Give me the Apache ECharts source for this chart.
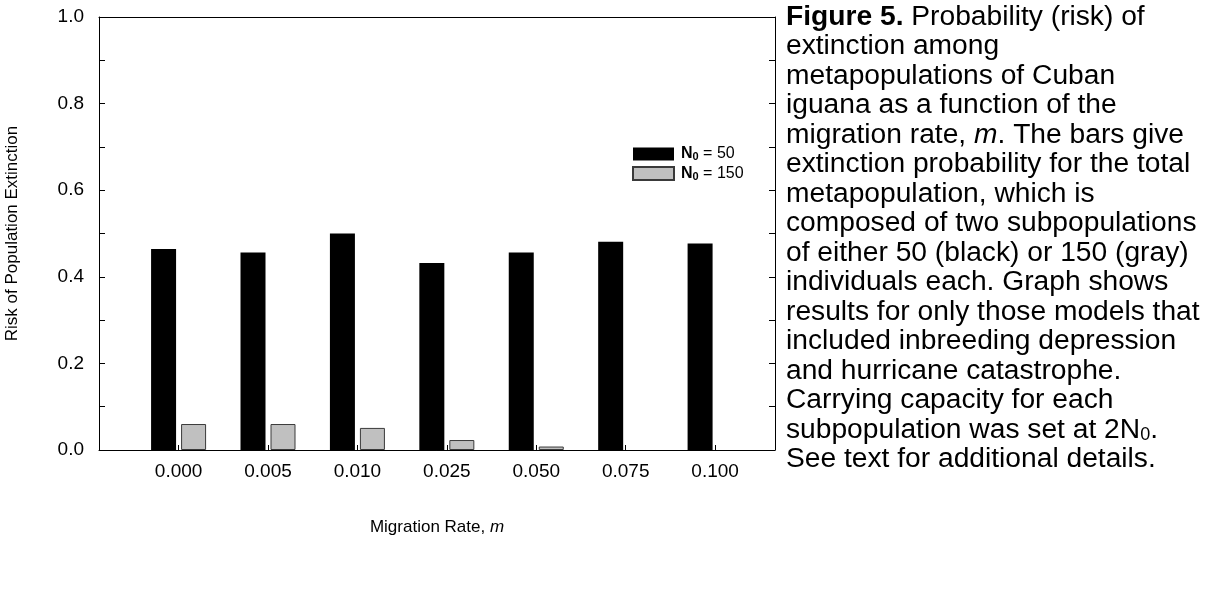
<!DOCTYPE html>
<html>
<head>
<meta charset="utf-8">
<script src="https://cdn.jsdelivr.net/npm/echarts@6/dist/echarts.min.js"></script>
<style>
html,body{margin:0;padding:0;background:#fff;}
#chart{width:1209px;height:589px;}
</style>
</head>
<body>
<div id="chart"></div>
<script>
// ---- data ----
const categories = ['0.000', '0.005', '0.010', '0.025', '0.050', '0.075', '0.100'];
const n50Values  = [0.464, 0.456, 0.500, 0.432, 0.456, 0.481, 0.477];
const n150Values = [0.060, 0.060, 0.051, 0.023, 0.008, 0.000, 0.000];
const yTicks = [0.0, 0.2, 0.4, 0.6, 0.8, 1.0];
const seriesNames = ['N0 = 50', 'N0 = 150'];
const captionLines = [
  '{b|Figure 5.} Probability (risk) of',
  'extinction among',
  'metapopulations of Cuban',
  'iguana as a function of the',
  'migration rate, {i|m}. The bars give',
  'extinction probability for the total',
  'metapopulation, which is',
  'composed of two subpopulations',
  'of either 50 (black) or 150 (gray)',
  'individuals each. Graph shows',
  'results for only those models that',
  'included inbreeding depression',
  'and hurricane catastrophe.',
  'Carrying capacity for each',
  'subpopulation was set at 2N{sub|0}.',
  'See text for additional details.'
];

const FONT = '"Liberation Sans", Arial, sans-serif';
const chart = echarts.init(document.getElementById('chart'), null, {renderer: 'canvas'});
const idx = categories.map((c, i) => i);

const axisLineStyle = {show: true, onZero: false, lineStyle: {color: '#000', width: 1}};

function barData(values, zeroNoBorder) {
  return values.map((v, i) => {
    const item = {value: [idx[i], v]};
    if (zeroNoBorder && v === 0) item.itemStyle = {borderWidth: 0};
    return item;
  });
}

chart.setOption({
  backgroundColor: '#fff',
  animation: false,
  grid: {left: 99, right: 434, top: 17, bottom: 139, containLabel: false, outerBoundsMode: 'none'},
  legend: {
    orient: 'vertical',
    left: 632, top: 146, padding: 0,
    itemWidth: 41, itemHeight: 13, itemGap: 3,
    icon: 'rect',
    data: seriesNames,
    formatter: function (name) {
      const num = name.split('= ')[1];
      return '{n|N}{s|0}{t| = ' + num + '}';
    },
    textStyle: {
      fontFamily: FONT, color: '#000', padding: [0, 0, 0, 2],
      rich: {
        n: {fontFamily: FONT, fontSize: 16, fontWeight: 'bold', color: '#000', lineHeight: 17},
        s: {fontFamily: FONT, fontSize: 11, fontWeight: 'bold', color: '#000', verticalAlign: 'bottom', lineHeight: 12},
        t: {fontFamily: FONT, fontSize: 16, color: '#000', lineHeight: 17}
      }
    }
  },
  xAxis: [{
    type: 'value',
    min: -0.89, max: 6.67,
    axisLine: axisLineStyle,
    splitLine: {show: false},
    axisTick: {show: true, inside: true, length: 5, customValues: idx, lineStyle: {color: '#000'}},
    axisLabel: {
      show: true, customValues: idx, margin: 12,
      fontFamily: FONT, fontSize: 19, color: '#000',
      formatter: function (v) { return categories[Math.round(v)]; }
    },
    name: '{a|Migration Rate, }{m|m}',
    nameLocation: 'middle', nameGap: 69,
    nameTextStyle: {
      fontFamily: FONT, fontSize: 17, color: '#000',
      rich: {
        a: {fontFamily: FONT, fontSize: 17, color: '#000'},
        m: {fontFamily: FONT, fontSize: 17, fontStyle: 'italic', color: '#000'}
      }
    }
  }, {
    type: 'value', position: 'top',
    min: -0.89, max: 6.67,
    axisLine: axisLineStyle,
    axisTick: {show: false}, axisLabel: {show: false}, splitLine: {show: false}
  }],
  yAxis: [{
    type: 'value', min: 0, max: 1, interval: 0.2,
    axisLine: axisLineStyle,
    splitLine: {show: false},
    axisTick: {show: true, inside: true, length: 6, lineStyle: {color: '#000'}},
    minorTick: {show: true, splitNumber: 2, length: 6, lineStyle: {color: '#000'}},
    axisLabel: {
      margin: 15, fontFamily: FONT, fontSize: 19, color: '#000',
      formatter: function (v) { return v.toFixed(1); }
    },
    name: 'Risk of Population Extinction',
    nameLocation: 'middle', nameGap: 78, nameRotate: 90,
    nameTextStyle: {fontFamily: FONT, fontSize: 17, color: '#000'}
  }, {
    type: 'value', min: 0, max: 1, interval: 0.2, position: 'right',
    axisLine: axisLineStyle,
    splitLine: {show: false},
    axisTick: {show: true, inside: true, length: 6, lineStyle: {color: '#000'}},
    minorTick: {show: true, splitNumber: 2, length: 6, lineStyle: {color: '#000'}},
    axisLabel: {show: false}
  }],
  series: [{
    name: seriesNames[0], type: 'bar', xAxisIndex: 0, yAxisIndex: 0,
    barWidth: 25, barGap: '20%',
    itemStyle: {color: '#000', borderColor: '#000', borderWidth: 0},
    data: barData(n50Values, false)
  }, {
    name: seriesNames[1], type: 'bar', xAxisIndex: 0, yAxisIndex: 0,
    barWidth: 25, barGap: '20%',
    itemStyle: {color: '#c0c0c0', borderColor: '#3a3a3a', borderWidth: 1},
    data: barData(n150Values, true)
  }],
  graphic: [{
    type: 'text', left: 786, top: 2,
    style: {
      text: captionLines.join('\n'),
      fontFamily: FONT, fontSize: 28.2, lineHeight: 29.5, fill: '#000',
      rich: {
        b: {fontFamily: FONT, fontSize: 28.2, fontWeight: 'bold', lineHeight: 29.5, fill: '#000'},
        i: {fontFamily: FONT, fontSize: 28.2, fontStyle: 'italic', lineHeight: 29.5, fill: '#000'},
        sub: {fontFamily: FONT, fontSize: 18, lineHeight: 18, verticalAlign: 'bottom', fill: '#000'}
      }
    }
  }]
});
</script>
</body>
</html>
